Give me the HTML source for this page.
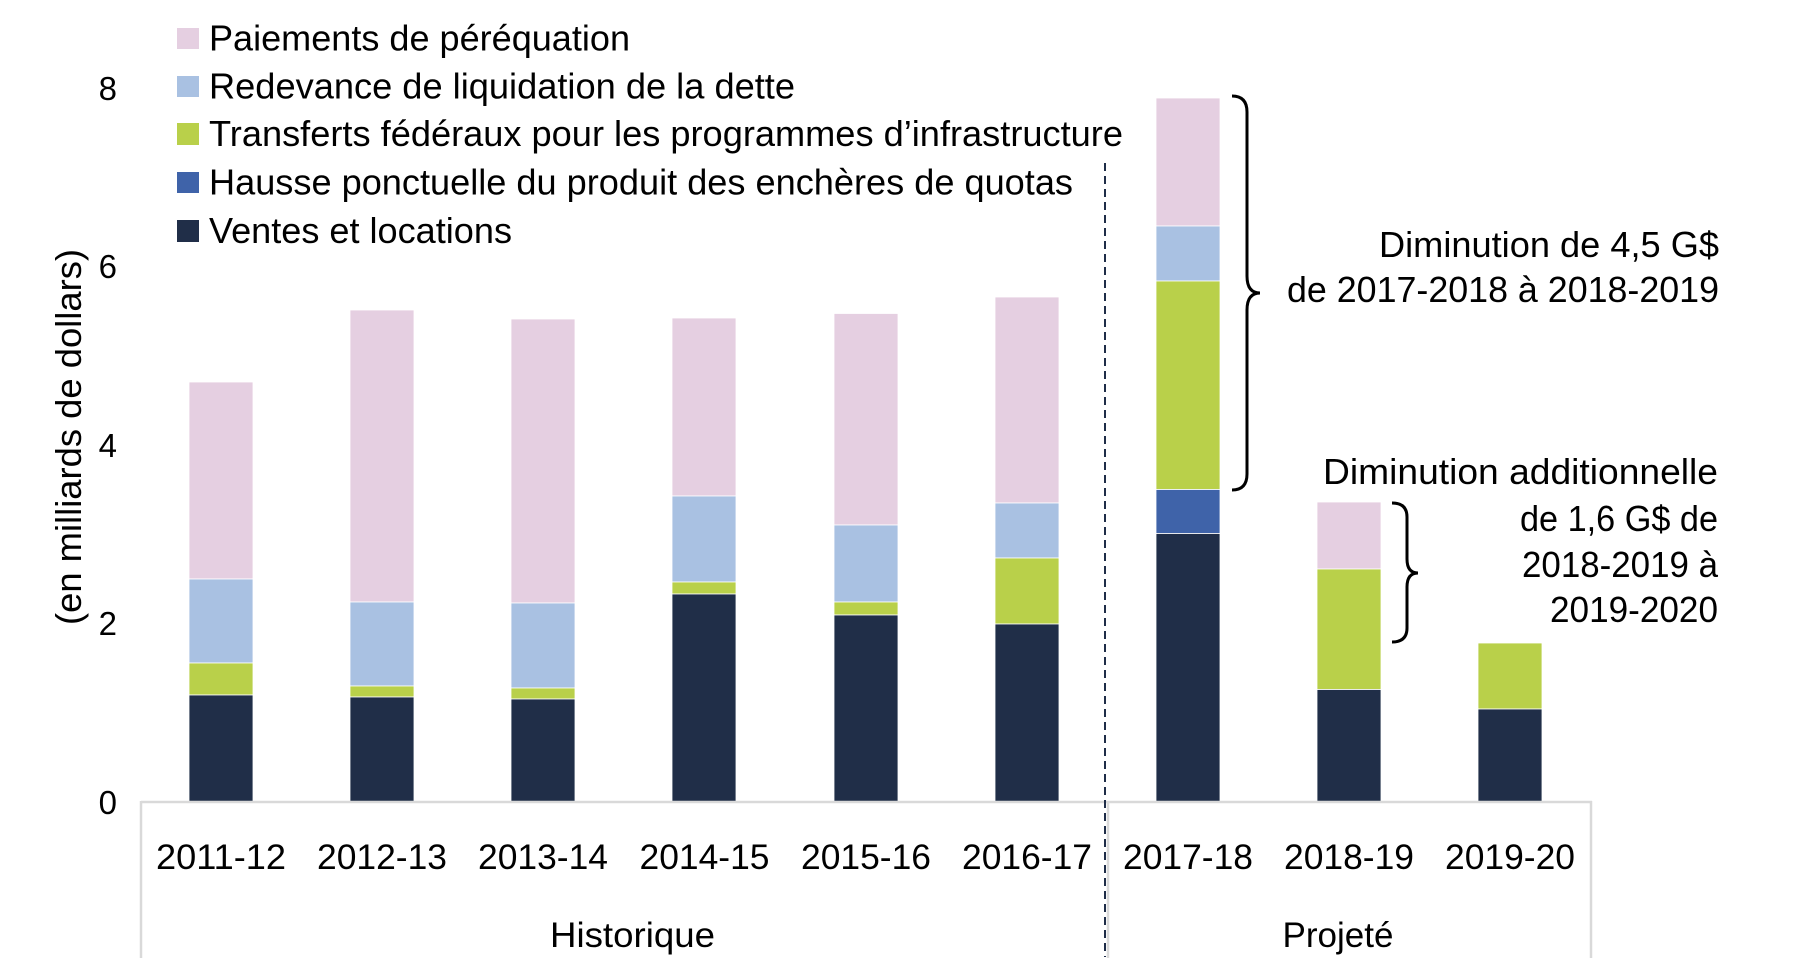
<!DOCTYPE html>
<html>
<head>
<meta charset="utf-8">
<style>
  html,body{margin:0;padding:0;background:#fff;}
  svg{display:block;}
  text{font-family:"Liberation Sans",Arial,sans-serif;fill:#000;}
</style>
</head>
<body>
<svg width="1814" height="978" viewBox="0 0 1814 978" xmlns="http://www.w3.org/2000/svg">
  <rect x="0" y="0" width="1814" height="978" fill="#fff"/>

  <!-- Legend -->
  <rect x="177" y="28" width="22" height="21" fill="#e5cfe1"/>
  <rect x="177" y="76" width="22" height="21" fill="#a9c1e2"/>
  <rect x="177" y="123" width="22" height="22" fill="#b9d04a"/>
  <rect x="177" y="172" width="22" height="21" fill="#3f63a9"/>
  <rect x="177" y="220" width="22" height="22" fill="#202e48"/>
  <text x="209" y="50.5" font-size="36" textLength="421" lengthAdjust="spacingAndGlyphs">Paiements de péréquation</text>
  <text x="209" y="98.5" font-size="36" textLength="586" lengthAdjust="spacingAndGlyphs">Redevance de liquidation de la dette</text>
  <text x="209" y="146" font-size="36" textLength="914" lengthAdjust="spacingAndGlyphs">Transferts fédéraux pour les programmes d’infrastructure</text>
  <text x="209" y="194.5" font-size="36" textLength="864" lengthAdjust="spacingAndGlyphs">Hausse ponctuelle du produit des enchères de quotas</text>
  <text x="209" y="243" font-size="36" textLength="303" lengthAdjust="spacingAndGlyphs">Ventes et locations</text>

  <!-- Y axis tick labels -->
  <text x="117" y="100" font-size="33" text-anchor="end">8</text>
  <text x="117" y="278" font-size="33" text-anchor="end">6</text>
  <text x="117" y="457" font-size="33" text-anchor="end">4</text>
  <text x="117" y="635" font-size="33" text-anchor="end">2</text>
  <text x="117" y="814" font-size="33" text-anchor="end">0</text>

  <!-- Y axis title -->
  <text transform="translate(81,437) rotate(-90)" font-size="36" text-anchor="middle" textLength="376" lengthAdjust="spacingAndGlyphs">(en milliards de dollars)</text>

  <!-- Bars -->
  <g stroke="#ffffff" stroke-width="0.8">
    <!-- 2011-12 -->
    <rect x="189" y="382" width="64" height="197" fill="#e5cfe1"/>
    <rect x="189" y="579" width="64" height="84" fill="#a9c1e2"/>
    <rect x="189" y="663" width="64" height="32" fill="#b9d04a"/>
    <rect x="189" y="695" width="64" height="107" fill="#202e48"/>
    <!-- 2012-13 -->
    <rect x="350" y="310" width="64" height="292" fill="#e5cfe1"/>
    <rect x="350" y="602" width="64" height="84" fill="#a9c1e2"/>
    <rect x="350" y="686" width="64" height="11" fill="#b9d04a"/>
    <rect x="350" y="697" width="64" height="105" fill="#202e48"/>
    <!-- 2013-14 -->
    <rect x="511" y="319" width="64" height="284" fill="#e5cfe1"/>
    <rect x="511" y="603" width="64" height="85" fill="#a9c1e2"/>
    <rect x="511" y="688" width="64" height="11" fill="#b9d04a"/>
    <rect x="511" y="699" width="64" height="103" fill="#202e48"/>
    <!-- 2014-15 -->
    <rect x="672" y="318" width="64" height="178" fill="#e5cfe1"/>
    <rect x="672" y="496" width="64" height="86" fill="#a9c1e2"/>
    <rect x="672" y="582" width="64" height="12" fill="#b9d04a"/>
    <rect x="672" y="594" width="64" height="208" fill="#202e48"/>
    <!-- 2015-16 -->
    <rect x="834" y="313.5" width="64" height="211.5" fill="#e5cfe1"/>
    <rect x="834" y="525" width="64" height="77" fill="#a9c1e2"/>
    <rect x="834" y="602" width="64" height="13" fill="#b9d04a"/>
    <rect x="834" y="615" width="64" height="187" fill="#202e48"/>
    <!-- 2016-17 -->
    <rect x="995" y="297" width="64" height="206" fill="#e5cfe1"/>
    <rect x="995" y="503" width="64" height="55" fill="#a9c1e2"/>
    <rect x="995" y="558" width="64" height="66" fill="#b9d04a"/>
    <rect x="995" y="624" width="64" height="178" fill="#202e48"/>
    <!-- 2017-18 -->
    <rect x="1156" y="98" width="64" height="128" fill="#e5cfe1"/>
    <rect x="1156" y="226" width="64" height="55" fill="#a9c1e2"/>
    <rect x="1156" y="281" width="64" height="208.5" fill="#b9d04a"/>
    <rect x="1156" y="489.5" width="64" height="44" fill="#3f63a9"/>
    <rect x="1156" y="533.5" width="64" height="268.5" fill="#202e48"/>
    <!-- 2018-19 -->
    <rect x="1317" y="502" width="64" height="67" fill="#e5cfe1"/>
    <rect x="1317" y="569" width="64" height="120.5" fill="#b9d04a"/>
    <rect x="1317" y="689.5" width="64" height="112.5" fill="#202e48"/>
    <!-- 2019-20 -->
    <rect x="1478" y="643" width="64" height="66" fill="#b9d04a"/>
    <rect x="1478" y="709" width="64" height="93" fill="#202e48"/>
  </g>

  <!-- Axes -->
  <line x1="141" y1="802" x2="1592" y2="802" stroke="#d9d9d9" stroke-width="2.5"/>
  <line x1="141" y1="801" x2="141" y2="958" stroke="#d9d9d9" stroke-width="2.5"/>
  <line x1="1591" y1="801" x2="1591" y2="958" stroke="#d9d9d9" stroke-width="2.5"/>
  <line x1="1108" y1="801" x2="1108" y2="958" stroke="#d9d9d9" stroke-width="2.5"/>

  <!-- Dashed separator -->
  <line x1="1105" y1="163" x2="1105" y2="957" stroke="#1f2d48" stroke-width="2" stroke-dasharray="8 5"/>

  <!-- Category labels -->
  <g font-size="35.5" text-anchor="middle">
    <text x="221" y="869" textLength="130" lengthAdjust="spacingAndGlyphs">2011-12</text>
    <text x="382" y="869" textLength="130" lengthAdjust="spacingAndGlyphs">2012-13</text>
    <text x="543" y="869" textLength="130" lengthAdjust="spacingAndGlyphs">2013-14</text>
    <text x="704.5" y="869" textLength="130" lengthAdjust="spacingAndGlyphs">2014-15</text>
    <text x="866" y="869" textLength="130" lengthAdjust="spacingAndGlyphs">2015-16</text>
    <text x="1027" y="869" textLength="130" lengthAdjust="spacingAndGlyphs">2016-17</text>
    <text x="1188" y="869" textLength="130" lengthAdjust="spacingAndGlyphs">2017-18</text>
    <text x="1349" y="869" textLength="130" lengthAdjust="spacingAndGlyphs">2018-19</text>
    <text x="1510" y="869" textLength="130" lengthAdjust="spacingAndGlyphs">2019-20</text>
  </g>
  <text x="632.5" y="947" font-size="35.5" text-anchor="middle" textLength="165" lengthAdjust="spacingAndGlyphs">Historique</text>
  <text x="1338" y="947" font-size="35.5" text-anchor="middle" textLength="111" lengthAdjust="spacingAndGlyphs">Projeté</text>

  <!-- Braces -->
  <path d="M1232,96 Q1247,96 1247,112 L1247,276 Q1247,293 1260,293 Q1247,293 1247,310 L1247,474 Q1247,490 1232,490" fill="none" stroke="#000" stroke-width="3"/>
  <path d="M1392,503 Q1407,503 1407,517 L1407,559 Q1407,573 1418,573 Q1407,573 1407,587 L1407,628 Q1407,642 1392,642" fill="none" stroke="#000" stroke-width="3"/>

  <!-- Annotations -->
  <g font-size="36" text-anchor="end">
    <text x="1719" y="257" textLength="340" lengthAdjust="spacingAndGlyphs">Diminution de 4,5 G$</text>
    <text x="1719" y="302" textLength="432" lengthAdjust="spacingAndGlyphs">de 2017-2018 à 2018-2019</text>
    <text x="1718" y="484" textLength="395" lengthAdjust="spacingAndGlyphs">Diminution additionnelle</text>
    <text x="1718" y="531" textLength="198" lengthAdjust="spacingAndGlyphs">de 1,6 G$ de</text>
    <text x="1718" y="577" textLength="196" lengthAdjust="spacingAndGlyphs">2018-2019 à</text>
    <text x="1718" y="622" textLength="168" lengthAdjust="spacingAndGlyphs">2019-2020</text>
  </g>
</svg>
</body>
</html>
